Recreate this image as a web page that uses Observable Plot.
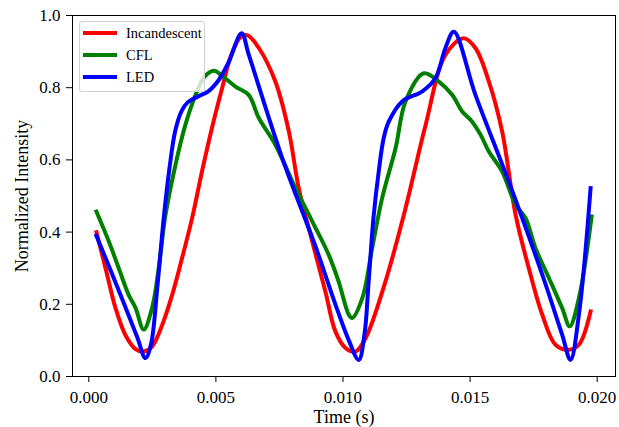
<!DOCTYPE html>
<html><head><meta charset="utf-8">
<script src="https://cdn.jsdelivr.net/npm/d3@7"></script>
<script src="https://cdn.jsdelivr.net/npm/@observablehq/plot@0.6"></script>
<style>
body{margin:0;background:#fff;}
#wrap{position:relative;width:619px;height:427px;font-family:"Liberation Serif","Times New Roman",serif;}
#legend{position:absolute;left:79px;top:21px;width:126px;height:71px;background:rgba(255,255,255,0.8);border:1px solid #d0d0d0;border-radius:3px;box-sizing:border-box;}
.row{position:absolute;left:0;height:22px;display:flex;align-items:center;font-size:14.5px;color:#000;white-space:nowrap;}
.sw{width:34px;height:4px;margin-left:3px;margin-right:9px;}
</style></head>
<body>
<div id="wrap"></div>
<script>
const seriesNames = ["Incandescent", "CFL", "LED"];
const seriesColors = ["#ff0000", "#008000", "#0000ff"];

const incT = [0.0003,0.00066,0.00105,0.00144,0.00184,0.00216,0.00249,0.00289,0.00328,0.00367,0.00407,0.00446,0.00485,0.00525,0.0056,0.00597,0.00625,0.00669,0.00734,0.00787,0.00826,0.00879,0.00931,0.0097,0.0101,0.01049,0.01089,0.01167,0.01246,0.01325,0.01403,0.01475,0.01521,0.01574,0.01626,0.01679,0.01731,0.01784,0.01836,0.01888,0.01928,0.01974];
const incV = [0.400,0.300,0.190,0.115,0.076,0.069,0.083,0.143,0.226,0.328,0.440,0.570,0.690,0.800,0.890,0.940,0.945,0.910,0.817,0.679,0.522,0.374,0.235,0.125,0.079,0.069,0.106,0.263,0.466,0.697,0.891,0.937,0.910,0.817,0.679,0.448,0.300,0.171,0.088,0.074,0.088,0.180];

const cflT = [0.0003,0.00079,0.00118,0.00157,0.00184,0.00216,0.00249,0.00275,0.00302,0.00341,0.0038,0.0042,0.00455,0.00492,0.0053,0.00577,0.00629,0.00669,0.00734,0.00813,0.00879,0.00944,0.00983,0.01023,0.01036,0.01076,0.01115,0.01154,0.01207,0.01246,0.01318,0.01377,0.0143,0.01469,0.01508,0.01541,0.01574,0.01626,0.01679,0.01718,0.01757,0.0181,0.01862,0.01892,0.01928,0.01978];
const cflV = [0.457,0.374,0.300,0.226,0.190,0.130,0.190,0.300,0.448,0.586,0.697,0.780,0.830,0.847,0.830,0.803,0.780,0.716,0.642,0.522,0.430,0.337,0.263,0.171,0.162,0.217,0.356,0.494,0.633,0.762,0.840,0.817,0.780,0.734,0.706,0.670,0.623,0.568,0.476,0.439,0.356,0.273,0.190,0.139,0.217,0.443];

const ledT = [0.0003,0.0012,0.0019,0.00223,0.00245,0.0027,0.00295,0.00318,0.0034,0.00365,0.0039,0.0043,0.0047,0.0051,0.0055,0.00601,0.0063,0.00761,0.00892,0.0097,0.01023,0.01062,0.01085,0.01101,0.0112,0.01141,0.0116,0.0118,0.01233,0.01312,0.01364,0.01403,0.01436,0.01521,0.01652,0.01784,0.01862,0.01895,0.01928,0.01974];
const ledV = [0.390,0.235,0.110,0.051,0.090,0.250,0.440,0.580,0.680,0.735,0.760,0.776,0.790,0.820,0.870,0.951,0.890,0.605,0.360,0.200,0.100,0.046,0.120,0.263,0.440,0.570,0.660,0.706,0.762,0.790,0.827,0.910,0.955,0.780,0.540,0.282,0.116,0.046,0.171,0.522];

const xTicks = [0, 0.005, 0.010, 0.015, 0.020];
const yTicks = [0, 0.2, 0.4, 0.6, 0.8, 1.0];

const rows = [];
[[incT, incV], [cflT, cflV], [ledT, ledV]].forEach(([T, V], i) => {
  T.forEach((t, j) => rows.push({series: seriesNames[i], t, v: V[j]}));
});

const font = `"Liberation Serif","Times New Roman",serif`;
const chart = Plot.plot({
  width: 619, height: 427,
  marginLeft: 72, marginRight: 4, marginTop: 15, marginBottom: 51,
  style: {fontFamily: font, fontSize: "17px", color: "#000", background: "#fff"},
  x: {domain: [-0.00064, 0.02072], ticks: xTicks, tickFormat: d3.format(".3f")},
  y: {domain: [0, 1], ticks: yTicks, tickFormat: d3.format(".1f")},
  color: {domain: seriesNames, range: seriesColors},
  marks: [
    Plot.lineY(rows, {x: "t", y: "v", z: "series", stroke: "series", strokeWidth: 4, curve: "catmull-rom", strokeLinecap: "square", strokeLinejoin: "round"}),
    Plot.frame({stroke: "#000", strokeWidth: 1}),
    Plot.axisX({ticks: xTicks, tickFormat: d3.format(".3f"), tickSize: 6, tickPadding: 8, label: null, fontSize: 17}),
    Plot.axisY({ticks: yTicks, tickFormat: d3.format(".1f"), tickSize: 6, tickPadding: 6, label: null, fontSize: 17}),
    Plot.text(["Time (s)"], {frameAnchor: "bottom", dy: 46, lineAnchor: "bottom", textAnchor: "middle", fontSize: 18, fill: "#000"}),
    Plot.text(["Normalized Intensity"], {frameAnchor: "left", dx: -50, rotate: -90, textAnchor: "middle", fontSize: 18, fill: "#000"})
  ]
});
const wrap = document.getElementById("wrap");
wrap.appendChild(chart);

const legend = document.createElement("div");
legend.id = "legend";
seriesNames.forEach((name, i) => {
  const row = document.createElement("div");
  row.className = "row";
  row.style.top = (0.3 + i * 22) + "px";
  const sw = document.createElement("div");
  sw.className = "sw";
  sw.style.background = seriesColors[i];
  const lab = document.createElement("span");
  lab.textContent = name;
  row.appendChild(sw); row.appendChild(lab);
  legend.appendChild(row);
});
wrap.appendChild(legend);
</script>
</body></html>
